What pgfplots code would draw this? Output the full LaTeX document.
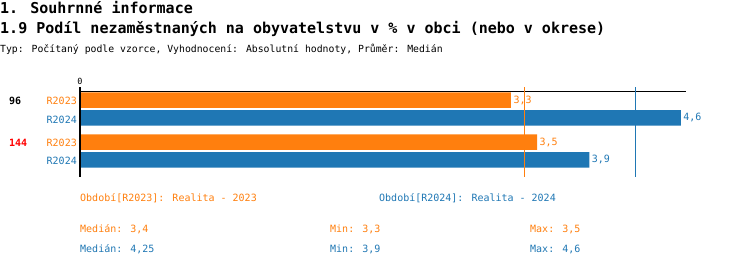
\documentclass[border=0pt]{standalone}
\usepackage{pgfplots}
\pgfplotsset{compat=1.18}
\usepackage{fontspec}
\setmainfont{DejaVu Sans Mono}
\setmonofont{DejaVu Sans Mono}
\definecolor{cOrange}{HTML}{FF7F0E}
\definecolor{cBlue}{HTML}{1F77B4}
\definecolor{cRed}{HTML}{FF0000}
\newcommand{\fs}[1]{\fontsize{#1bp}{#1bp}\selectfont}
\begin{document}
\begin{tikzpicture}
\useasboundingbox (0,0) rectangle (750bp,266bp);
% headings
\node[anchor=base west, inner sep=0pt] at (0bp,252bp) {\fs{15}\bfseries 1. Souhrnné informace};
\node[anchor=base west, inner sep=0pt] at (0bp,232bp) {\fs{15}\bfseries 1.9 Podíl nezaměstnaných na obyvatelstvu v \% v obci (nebo v okrese)};
\node[anchor=base west, inner sep=0pt] at (0bp,213bp) {\fs{9.8}Typ: Počítaný podle vzorce, Vyhodnocení: Absolutní hodnoty, Průměr: Medián};

\begin{axis}[
  at={(80bp,89bp)}, anchor=south west,
  scale only axis, width=606bp, height=90bp,
  xmin=0, xmax=4.64, ymin=-0.619, ymax=1.524,
  hide axis, clip=false,
  /pgf/number format/.cd, use comma, fixed, fixed zerofill, precision=1, assume math mode=true,
]
% top rule
\draw[black, line width=1bp] (axis cs:0,1.405) -- (axis cs:4.64,1.405);
% R2023
\addplot[xbar, bar width=15.5bp, bar shift=8.8bp, fill=cOrange, draw=none,
  nodes near coords, every node near coord/.append style={font=\fs{10}, text=cOrange, anchor=west, xshift=-1bp, yshift=8.8bp}]
  coordinates {(3.3,1) (3.5,0)};
% R2024
\addplot[xbar, bar width=15.5bp, bar shift=-8.8bp, fill=cBlue, draw=none,
  nodes near coords, every node near coord/.append style={font=\fs{10}, text=cBlue, anchor=west, xshift=-1bp, yshift=-8.8bp}]
  coordinates {(4.6,1) (3.9,0)};
% medians
\addplot[cOrange, line width=1bp, mark=none] coordinates {(3.4,-0.619) (3.4,1.524)};
\addplot[cBlue, line width=1bp, mark=none] coordinates {(4.25,-0.619) (4.25,1.524)};
% value axis
\draw[black, line width=1.4bp] (axis cs:0,-0.619) -- (axis cs:0,1.524);
\node[anchor=base, inner sep=0pt, font=\fs{8.5}] at (axis cs:0,1.524) [yshift=2bp] {0};
\end{axis}

% category labels
\node[anchor=base west, inner sep=0pt] at (9bp,161bp) {\fs{10}\bfseries 96};
\node[anchor=base west, inner sep=0pt, text=cRed] at (9bp,119.3bp) {\fs{10}\bfseries 144};
\node[anchor=base east, inner sep=0pt, text=cOrange] at (77bp,161bp) {\fs{10}R2023};
\node[anchor=base east, inner sep=0pt, text=cBlue] at (77bp,142.7bp) {\fs{10}R2024};
\node[anchor=base east, inner sep=0pt, text=cOrange] at (77bp,119bp) {\fs{10}R2023};
\node[anchor=base east, inner sep=0pt, text=cBlue] at (77bp,101bp) {\fs{10}R2024};

% legend and summary
\node[anchor=base west, inner sep=0pt, text=cOrange] at (80bp,64bp) {\fs{10}Období[R2023]: Realita - 2023};
\node[anchor=base west, inner sep=0pt, text=cBlue] at (379bp,64bp) {\fs{10}Období[R2024]: Realita - 2024};
\node[anchor=base west, inner sep=0pt, text=cOrange] at (80bp,34bp) {\fs{10}Medián: 3,4};
\node[anchor=base west, inner sep=0pt, text=cOrange] at (330bp,34bp) {\fs{10}Min: 3,3};
\node[anchor=base west, inner sep=0pt, text=cOrange] at (530bp,34bp) {\fs{10}Max: 3,5};
\node[anchor=base west, inner sep=0pt, text=cBlue] at (80bp,14bp) {\fs{10}Medián: 4,25};
\node[anchor=base west, inner sep=0pt, text=cBlue] at (330bp,14bp) {\fs{10}Min: 3,9};
\node[anchor=base west, inner sep=0pt, text=cBlue] at (530bp,14bp) {\fs{10}Max: 4,6};
\end{tikzpicture}
\end{document}
